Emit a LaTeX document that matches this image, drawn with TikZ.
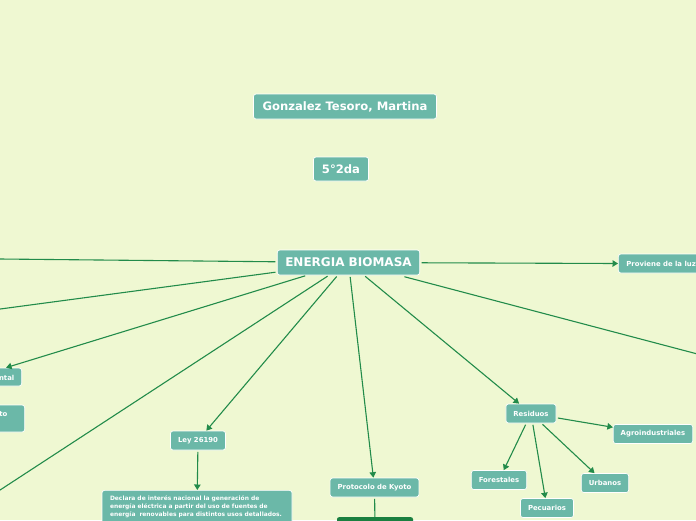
\documentclass[tikz,border=0pt]{standalone}
\usepackage{fontspec}
\setmainfont{DejaVu Sans}
\usetikzlibrary{arrows.meta,calc}
\definecolor{bgc}{RGB}{239,248,210}
\definecolor{boxc}{RGB}{107,184,168}
\definecolor{linec}{RGB}{34,139,74}
\definecolor{darkc}{RGB}{26,128,64}
\tikzset{
  box/.style={fill=boxc, draw=white, line width=0.7pt, rounded corners=2.5pt, text=white, font=\bfseries\fontsize{6.9}{8}\selectfont, inner xsep=7.5pt, inner ysep=0pt, minimum height=19pt},
  bigbox/.style={box, font=\bfseries\fontsize{11.6}{13}\selectfont, minimum height=25pt, inner xsep=9pt},
  lbl/.style={text=white, font=\bfseries\fontsize{6.9}{8}\selectfont, anchor=east, inner sep=0pt},
  conn/.style={draw=linec, line width=1.1pt, shorten <=1.5pt},
  arr/.style={conn, -{Triangle[length=5.5pt,width=6.5pt]}},
}
\begin{document}
\begin{tikzpicture}[x=1pt,y=-1pt]
\useasboundingbox (0,0) rectangle (696,520);
\fill[bgc] (0,0) rectangle (696,520);
\clip (0,0) rectangle (696,520);

% nodes
\node[bigbox] (name) at (345,106.5) {Gonzalez Tesoro, Martina};
\node[bigbox, inner xsep=8.5pt, minimum height=24pt] (curso) at (341,169) {5°2da};
\node[bigbox, font=\bfseries\fontsize{12}{14}\selectfont, inner xsep=8pt] (eb) at (348.5,262.5) {ENERGIA BIOMASA};
\node[box, anchor=west, inner xsep=8pt] (prov) at (618,263.5) {Proviene de la luz\hspace{6pt}};
\node[box] (res) at (531,413.5) {Residuos};
\node[box] (agro) at (653,434) {Agroindustriales};
\node[box] (fore) at (499,480) {Forestales};
\node[box] (pec) at (547,508) {Pecuarios};
\node[box] (urb) at (605,483) {Urbanos};
\node[box] (ley) at (198,440.5) {Ley 26190};
\node[box] (kyo) at (374.5,487.5) {Protocolo de Kyoto};
\node[box, anchor=north, text width=174pt, align=left, inner xsep=8pt, inner ysep=5pt, font=\bfseries\fontsize{5.95}{8.3}\selectfont] (decl) at (197,490)
  {Declara de interés nacional la generación de\\energía eléctrica a partir del uso de fuentes de\\energía\ \ renovables para distintos usos detallados.\\ \ };
\node[fill=darkc, rounded corners=2pt, anchor=north, minimum width=76pt, minimum height=20pt] (dk) at (375,517) {};
\node[box, anchor=east, minimum width=92pt, minimum height=18pt] (ntal) at (22,377) {};
\node[lbl] (ntaltxt) at (14.5,377.5) {ntal};
\node[box, anchor=east, minimum width=90pt, minimum height=27pt] (tobox) at (25,418.5) {};
\node[lbl] (totxt) at (7.5,414) {to};

% off-picture ends
\coordinate (c1) at (-20,258.8);
\coordinate (c2) at (-20,311.7);
\coordinate (c4) at (-20,503.1);
\coordinate (c8s) at ($(eb.south)+(54.5,1)$);
\coordinate (c8) at (716,358.9);

% connectors
\draw[conn] (eb) -- (c1);
\draw[conn] (eb) -- (c2);
\draw[arr] (eb) -- (ntal);
\draw[conn] (eb) -- (c4);
\draw[arr] (eb) -- (ley);
\draw[arr] (eb) -- (kyo);
\draw[arr] (eb) -- (res);
\draw[conn] (c8s) -- (c8);
\draw[arr] (eb) -- (prov.west);
\draw[arr] (res) -- (fore);
\draw[arr] (res) -- (pec);
\draw[arr] (res) -- (urb);
\draw[arr] (res) -- (agro);
\draw[arr] (ley) -- (decl);
\draw[conn] (kyo) -- (dk);
\end{tikzpicture}
\end{document}
